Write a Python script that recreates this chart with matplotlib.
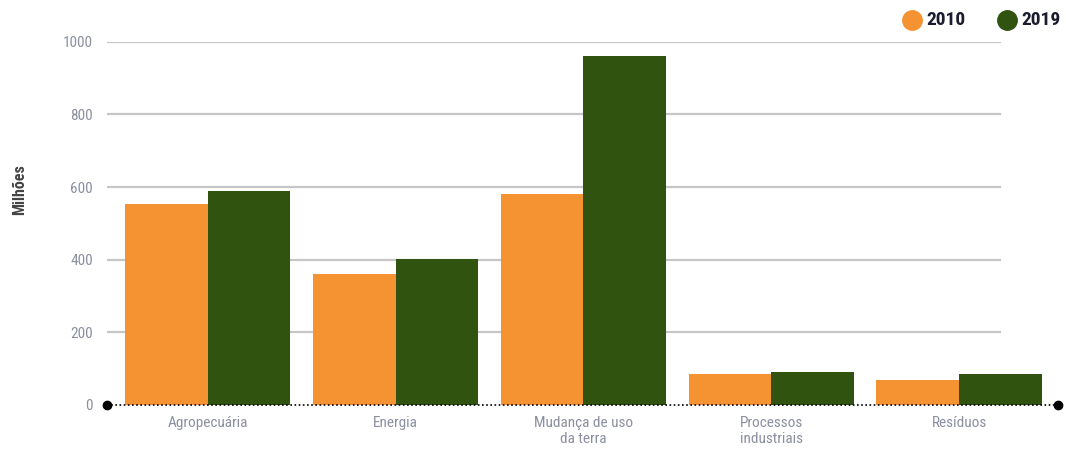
import numpy as np
import matplotlib.pyplot as plt

plt.rcParams['font.family'] = ['Roboto Condensed', 'Liberation Sans Narrow', 'DejaVu Sans Condensed',
                               'Liberation Sans', 'DejaVu Sans']

categories = ["Agropecuária", "Energia", "Mudança de uso\nda terra", "Processos\nindustriais", "Resíduos"]
v2010 = [553, 360, 580, 86, 68]
v2019 = [589, 402, 961, 90, 86]
yticks = [0, 200, 400, 600, 800, 1000]
years = ["2010", "2019"]

c2010 = "#F59333"
c2019 = "#30530F"
tick_col = "#8C8FA0"

W, H = 1066, 453
fig = plt.figure(figsize=(W/100, H/100), dpi=100)
ax = fig.add_axes([107/W, 48/H, (1058-107)/W, (405-41.7)/H])

x = np.arange(len(categories))
w = 0.44
ax.bar(x - w/2, v2010, w, color=c2010, zorder=3)
ax.bar(x + w/2, v2019, w, color=c2019, zorder=3)

ax.set_xlim(-0.537, 4.527)
ax.set_ylim(0, 1000)

# grid lines stop before the right end
for t in yticks[1:]:
    ax.axhline(t, xmin=0, xmax=(1000-107)/(1058-107), color="#c6c6c6", lw=1.6, zorder=1)

# dotted baseline with dots at the ends
base = ax.get_yaxis_transform()
ax.plot([0, 1], [0, 0], transform=base, color="black", ls=(0, (1, 1.5)),
        lw=1.2, clip_on=False, zorder=4)
ax.plot([0, 1], [0, 0], transform=base, ls="none", marker="o",
        ms=6, color="black", clip_on=False, zorder=5)

for s in ax.spines.values():
    s.set_visible(False)

ax.set_yticks(yticks)
ax.set_yticklabels([str(t) for t in yticks])
ax.set_xticks(x)
ax.set_xticklabels(categories)
ax.tick_params(axis="y", length=0, pad=10, labelsize=11, labelcolor=tick_col)
ax.tick_params(axis="x", length=0, pad=8, labelsize=11, labelcolor=tick_col)

fig.text(20/W, 1 - 190/H, "Milhões", rotation=90, ha="center", va="center",
         fontsize=11.5, fontweight="bold", color="#444444")

# legend drawn by hand: dot + year
for px, col, lab in [(912, c2010, years[0]), (1007, c2019, years[1])]:
    fig.add_artist(plt.Line2D([px/W], [1 - 20/H], ls="none", marker="o", ms=14, color=col,
                              transform=fig.transFigure))
    fig.text((px + 14)/W, 1 - 20/H, lab, ha="left", va="center", fontsize=14,
             fontweight="bold", color="#1c1c30")

fig.savefig("out.png", dpi=100)
